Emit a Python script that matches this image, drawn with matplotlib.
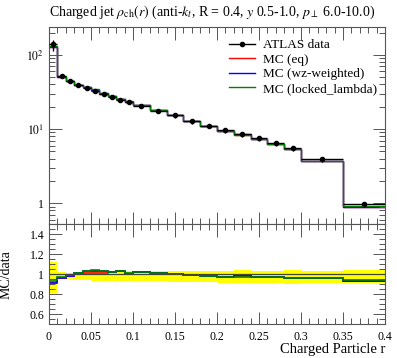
import numpy as np
import matplotlib
matplotlib.use("Agg")
import matplotlib.pyplot as plt
from matplotlib.ticker import FixedLocator, MultipleLocator, FuncFormatter, LogLocator, NullFormatter
from matplotlib.lines import Line2D

# ---- data ----
edges = [0.0, 0.01, 0.02, 0.03, 0.04, 0.05, 0.06, 0.07, 0.08, 0.09, 0.10,
         0.12, 0.14, 0.16, 0.18, 0.20, 0.22, 0.24, 0.26, 0.28, 0.30, 0.35, 0.40]
data = [141, 52.5, 44.6, 39.3, 36.1, 32.9, 29.7, 27.3, 24.7, 23.4, 20.5,
        17.7, 15.3, 12.8, 11.1, 9.7, 8.6, 7.6, 6.5, 5.6, 3.9, 0.97]
err_up = [0.12, 0.02, 0.01, 0.02, 0.03, 0.03, 0.03, 0.03, 0.03, 0.03, 0.035,
          0.035, 0.035, 0.035, 0.035, 0.035, 0.04, 0.035, 0.035, 0.04, 0.035, 0.045]
err_dn = [0.19, 0.05, 0.05, 0.055, 0.055, 0.065, 0.065, 0.07, 0.07, 0.07, 0.07,
          0.07, 0.08, 0.08, 0.08, 0.085, 0.09, 0.085, 0.09, 0.095, 0.09, 0.085]
mc_eq = [129.7, 50.7, 43.9, 39.5, 36.5, 33.2, 30.0, 28.0, 25.4, 23.4, 20.9,
         17.9, 15.3, 12.7, 10.9, 9.43, 8.43, 7.37, 6.32, 5.40, 3.74, 0.902]
mc_wz = [127.9, 50.4, 43.9, 39.7, 37.2, 34.1, 30.5, 28.0, 25.6, 23.4, 20.9,
         17.9, 15.3, 12.7, 10.9, 9.47, 8.51, 7.37, 6.32, 5.40, 3.74, 0.900]
mc_ll = [132.5, 51.2, 44.2, 39.7, 37.4, 34.4, 30.5, 28.0, 25.4, 23.6, 20.9,
         17.9, 15.3, 12.7, 10.9, 9.47, 8.39, 7.37, 6.32, 5.40, 3.74, 0.912]
labels = ["MC (eq)", "MC (wz-weighted)", "MC (locked_lambda)"]
colors = ["red", "blue", "green"]
xticks = [0, 0.05, 0.1, 0.15, 0.2, 0.25, 0.3, 0.35, 0.4]
xticklabels = ["0", "0.05", "0.1", "0.15", "0.2", "0.25", "0.3", "0.35", "0.4"]
rticks = [0.6, 0.8, 1.0, 1.2, 1.4]
rticklabels = ["0.6", "0.8", "1", "1.2", "1.4"]

plt.rcParams['font.family'] = ['Liberation Serif', 'DejaVu Serif']
plt.rcParams['mathtext.fontset'] = 'stix'

edges_a = np.array(edges)
data_a = np.array(data)
cent = 0.5 * (edges_a[1:] + edges_a[:-1])
halfw = 0.5 * (edges_a[1:] - edges_a[:-1])

fig = plt.figure(figsize=(3.97, 3.58), dpi=100)
L, R = 49 / 397, 385 / 397
ax = fig.add_axes([L, 1 - 224.3 / 358, R - L, (224.3 - 26.7) / 358])
rx = fig.add_axes([L, 1 - 324 / 358, R - L, (324 - 224.3) / 358], sharex=ax)

frame_col = '#555555'
for a in (ax, rx):
    for s in a.spines.values():
        s.set_color(frame_col)
        s.set_linewidth(0.8)
    a.tick_params(which='both', direction='in', top=True, right=True,
                  color=frame_col, width=0.7, labelsize=8.5)
    a.tick_params(which='major', length=9)
    a.tick_params(which='minor', length=4.5)

# main panel
mcs = [mc_eq, mc_wz, mc_ll]
for vals, c in zip(mcs, colors):
    ax.stairs(vals, edges, color=c, lw=1.0, baseline=None)
ax.errorbar(cent, data_a, xerr=halfw,
            yerr=[data_a * np.array(err_dn), data_a * np.array(err_up)],
            fmt='o', color='black', ms=3, lw=1.0, capsize=0, zorder=5,
            label="ATLAS data")
ax.set_yscale('log')
ax.set_ylim(0.52, 240)
ax.set_xlim(0, 0.4)
ax.yaxis.set_major_locator(FixedLocator([1, 10, 100]))
ax.yaxis.set_major_formatter(FuncFormatter(
    lambda v, p: "1" if abs(v - 1) < 1e-9 else (r"$10^{%d}$" % int(round(np.log10(v))))))
ax.yaxis.set_minor_locator(LogLocator(base=10, subs=np.arange(2, 10)))
ax.yaxis.set_minor_formatter(NullFormatter())
ax.xaxis.set_major_locator(FixedLocator(xticks))
ax.xaxis.set_minor_locator(MultipleLocator(0.01))
plt.setp(ax.get_xticklabels(), visible=False)

# legend
handles = [Line2D([], [], color='black', marker='o', ms=3, lw=1.0)]
handles += [Line2D([], [], color=c, lw=1.0) for c in colors]
ax.legend(handles, ["ATLAS data"] + labels, loc='upper left',
          bbox_to_anchor=(0.52, 0.965), frameon=False, fontsize=9.5,
          handlelength=2.0, handletextpad=0.55, labelspacing=0.18,
          borderaxespad=0)

# ratio panel
up = 1 + np.array(err_up)
dn = 1 - np.array(err_dn)
rx.stairs(up, edges, baseline=dn, fill=True, color='#ffff00', lw=0)
rx.axhline(1.0, color='#444444', lw=0.9)
for vals, c in zip(mcs, colors):
    rx.stairs(np.array(vals) / data_a, edges, color=c, lw=1.2, baseline=None)
rx.set_ylim(0.5, 1.5)
rx.set_xlim(0, 0.4)
rx.yaxis.set_major_locator(FixedLocator(rticks))
rx.set_yticklabels(rticklabels)
rx.yaxis.set_minor_locator(MultipleLocator(0.05))
rx.xaxis.set_major_locator(FixedLocator(xticks))
rx.set_xticklabels(xticklabels)
rx.xaxis.set_minor_locator(MultipleLocator(0.01))
rx.tick_params(axis='x', pad=5)
rx.set_ylabel("MC/data", fontsize=10)
rx.yaxis.set_label_coords(-0.108, 0.5)
rx.set_xlabel("Charged Particle r", fontsize=10.5, loc='right', labelpad=0)

fig.text(L, 1 - 16 / 358,
         r"Charged jet $\rho_{\rm ch}(r)$ (anti-$k_t$, R = 0.4, $y$ 0.5-1.0, $p_\perp$ 6.0-10.0)",
         fontsize=10, ha='left', va='baseline')

fig.savefig("out.png", dpi=100)
